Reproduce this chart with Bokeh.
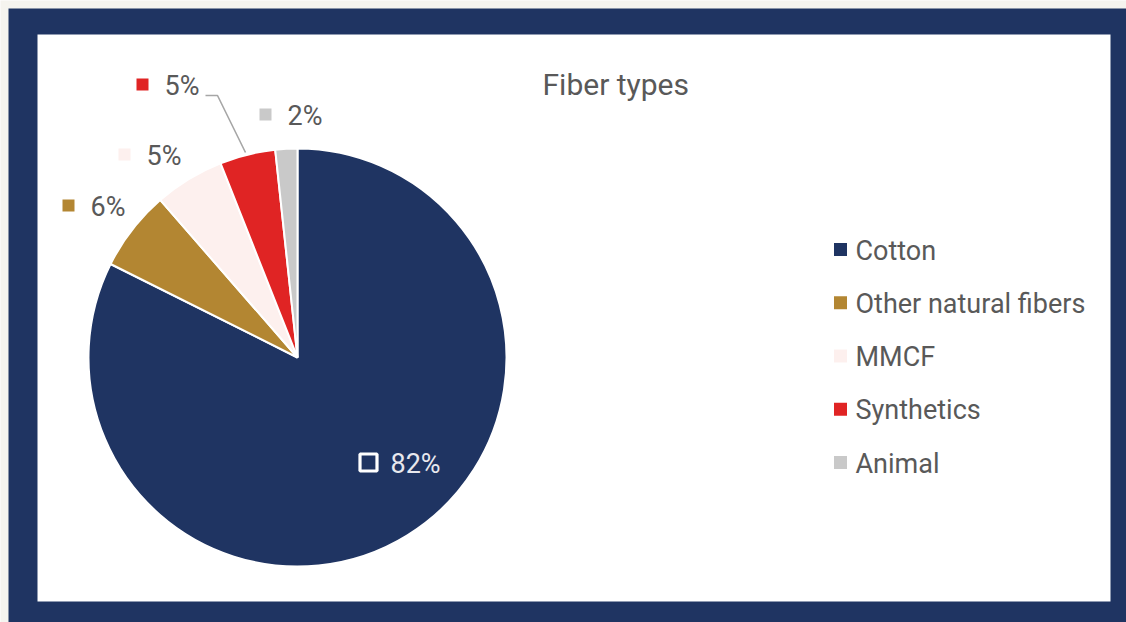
import math
from bokeh.plotting import figure
from bokeh.models import Range1d, ColumnDataSource
from bokeh.core.properties import value
from bokeh.embed import file_html
from bokeh.resources import INLINE

# ---- data ----
categories = ["Cotton", "Other natural fibers", "MMCF", "Synthetics", "Animal"]
shares = [82.3, 6.2, 5.4, 4.3, 1.7]
pct_labels = ["82%", "6%", "5%", "5%", "2%"]
title_text = "Fiber types"

# ---- styles ----
colors = ["#1f3462", "#b38632", "#fdf0ee", "#e02424", "#c9c9c9"]
TEXT = "#595959"
NAVY = "#1f3462"
PAGE = "#f5f4ef"
FONT = "Roboto"
W, H = 1126, 622

def Y(py):
    return H - py

p = figure(width=W, height=H, output_backend="svg", toolbar_location=None,
           x_range=Range1d(0, W), y_range=Range1d(0, H), min_border=0,
           background_fill_color=PAGE, border_fill_color=PAGE)
p.axis.visible = False
p.grid.visible = False
p.outline_line_color = None

# frame
p.quad(left=[8], right=[W], top=[Y(8)], bottom=[0], fill_color=NAVY, line_color=None)
p.quad(left=[37], right=[1110], top=[Y(34)], bottom=[Y(601)], fill_color="white", line_color=None)

# pie
cx, cy, r = 297, Y(357), 209
total = sum(shares)
starts, ends = [], []
cum = 0.0
for s in shares:
    a0 = math.pi / 2 - cum / total * 2 * math.pi
    cum += s
    a1 = math.pi / 2 - cum / total * 2 * math.pi
    starts.append(a0)
    ends.append(a1)
src = ColumnDataSource(dict(cat=categories, start=starts, end=ends, color=colors))
p.wedge(x=cx, y=cy, radius=r, start_angle="start", end_angle="end", direction="clock",
        fill_color="color", line_color="white", line_width=2, source=src)

# data labels (marker + text), layout positions in pixel space
label_pos = [(368, 462), (68, 205), (124, 154), (142, 84), (265, 114)]
mk_x = [lp[0] for lp in label_pos]
mk_y = [Y(lp[1]) for lp in label_pos]
p.scatter(x=mk_x[1:], y=mk_y[1:], marker="square", size=12,
          fill_color=colors[1:], line_color=None)
p.scatter(x=[mk_x[0]], y=[mk_y[0]], marker="square", size=17,
          fill_color=NAVY, line_color="white", line_width=3.2)
lbl_colors = ["#e8e8ee"] + [TEXT] * 4
p.text(x=[x + 22 for x in mk_x], y=[y - 1 for y in mk_y], text=pct_labels,
       text_color=lbl_colors, text_font=value(FONT), text_font_size="27px",
       text_baseline="middle", text_align="left")

# leader line for Synthetics label
p.line(x=[205, 217, 245], y=[Y(95), Y(95), Y(152)], line_color="#a6a6a6", line_width=1.6)

# title
p.text(x=[542], y=[Y(84)], text=[title_text], text_color=TEXT, text_font=value(FONT),
       text_font_size="30px", text_baseline="middle", text_align="left")

# legend
leg_y = [Y(249 + 53.25 * i) for i in range(len(categories))]
p.scatter(x=[840] * len(categories), y=leg_y, marker="square", size=13,
          fill_color=colors, line_color=None)
p.text(x=[855] * len(categories), y=[y - 1 for y in leg_y], text=categories,
       text_color=TEXT, text_font=value(FONT), text_font_size="27px",
       text_baseline="middle", text_align="left")

open("out.html", "w").write(file_html(p, INLINE))
